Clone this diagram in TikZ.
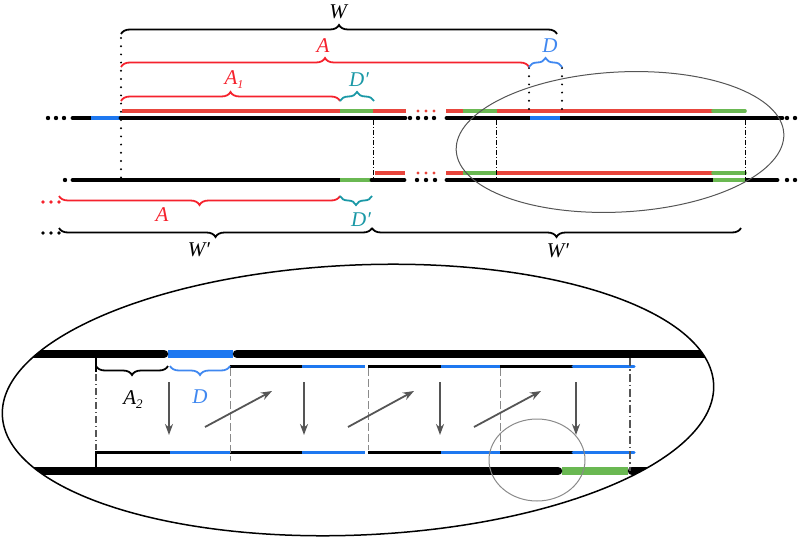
\documentclass[tikz,border=0pt]{standalone}
\usepackage{fontspec}
\setmainfont{Liberation Serif}
\usetikzlibrary{decorations.pathreplacing,arrows.meta}
\definecolor{lred}{HTML}{E8453C}
\definecolor{bred}{HTML}{F5222D}
\definecolor{lblue}{HTML}{1E78F0}
\definecolor{bblue}{HTML}{4088F0}
\definecolor{lgreen}{HTML}{6AB852}
\definecolor{tealb}{HTML}{1A98A6}
\definecolor{agray}{HTML}{555555}
\definecolor{lgray}{HTML}{8A8A8A}
\begin{document}
\begin{tikzpicture}[x=1pt,y=-1pt,
  bup/.style={decorate,decoration={brace,amplitude=9pt},line width=1.8pt},
  bdown/.style={decorate,decoration={brace,amplitude=9pt,mirror},line width=1.8pt},
  lab/.style={font=\fontsize{21}{21}\selectfont\itshape,inner sep=0pt},
  thk/.style={line width=4.8pt,line cap=round},
  thkb/.style={line width=4.8pt},
  rl/.style={line width=3.6pt,lred},
  gl/.style={line width=3.6pt,lgreen},
  bk/.style={line width=8.5pt,line cap=round},
  bkb/.style={line width=8.5pt},
  tn/.style={line width=3pt},
  dotv/.style={line width=2.2pt,line cap=round,dash pattern=on 0pt off 8.2pt},
  dashdotv/.style={line width=0.9pt,dash pattern=on 5pt off 2pt on 1pt off 2pt},
  arr/.style={agray,line width=1.8pt,-{Stealth[length=11pt,width=8pt]}}
]
\useasboundingbox (0,0) rectangle (799,540);

% ---------- top section: line 1 ----------
\foreach \x in {48,56,64,410,418,426,434,787,795} \fill (\x,118) circle (2.2);
\draw[thk] (73,118) -- (91,118);
\draw[thkb,lblue] (91,118) -- (121,118);
\draw[thk] (121,118) -- (405,118);
\draw[thk] (447,118) -- (782,118);
\draw[thkb,lblue] (530,118) -- (560,118);
% red line 1
\draw[rl] (122,111) -- (406,111);
\draw[gl] (340,111) -- (373,111);
\foreach \x in {418,426,434} \fill[lred] (\x,111) circle (1.7);
\draw[rl] (446,111) -- (745,111);
\draw[gl] (463,111) -- (497,111);
\draw[gl,line cap=round] (713,111) -- (745,111);

% ---------- line 2 ----------
\foreach \x in {65,417,426,435,787,795} \fill (\x,180) circle (2.2);
\draw[thk] (73,180) -- (340,180);
\draw[thkb,lgreen] (340,180) -- (372,180);
\draw[thk] (372,180) -- (404,180);
\draw[thk] (447,180) -- (777,180);
\draw[thkb,lgreen] (713,180) -- (745,180);
% red line 2
\draw[rl] (375,173) -- (405,173);
\foreach \x in {418,426,434} \fill[lred] (\x,173) circle (1.7);
\draw[rl] (446,173) -- (745,173);
\draw[gl] (463,173) -- (497,173);
\draw[gl,line cap=round] (713,173) -- (745,173);

% vertical guides
\draw[dotv] (121,38) -- (121,180);
\draw[dotv] (529,68) -- (529,111);
\draw[dotv] (562,68) -- (562,111);
\draw[dashdotv] (373,120) -- (373,178);
\draw[dashdotv] (496,120) -- (496,178);
\draw[dashdotv] (745,120) -- (745,178);

% braces top
\draw[bup] (121,34) -- (557,34);
\node[lab] (lW) at (338,12) {W};
\draw[bup,bred] (121,67) -- (529,67);
\node[lab,bred] (lA) at (323,46) {A};
\draw[bup,bblue] (529,67) -- (562,67);
\node[lab,bblue] (lD) at (550,46) {D};
\draw[bup,bred] (121,101) -- (340,101);
\node[lab,bred] (lA1) at (234,80) {A\raisebox{-4pt}{\fontsize{12}{12}\selectfont 1}};
\draw[bup,tealb] (340,101) -- (374,101);
\node[lab,tealb] (lDp1) at (359,80) {D′};

% braces lower
\foreach \x in {43,51,59} \fill[bred] (\x,202) circle (1.9);
\draw[bdown,bred] (59,196) -- (340,196);
\node[lab,bred] (lA2) at (162,215) {A};
\draw[bdown,tealb] (340,196) -- (372,196);
\node[lab,tealb] (lDp2) at (361,220) {D′};
\foreach \x in {43,51,59} \fill (\x,233) circle (1.9);
\draw[bdown] (59,228) -- (372,228);
\node[lab] (lWp1) at (199,250) {W′};
\draw[bdown] (372,228) -- (741,228);
\node[lab] (lWp2) at (558,251) {W′};

% top ellipse
\draw[line width=1pt,agray,rotate around={3:(620,142)}] (620,142) ellipse [x radius=164, y radius=70];

% ---------- bottom enlarged view ----------
\begin{scope}
\clip[rotate around={2.5:(358,400)}] (358,400) ellipse [x radius=356, y radius=135];
\draw[bkb,lblue] (168,354) -- (233,354);
\draw[bk] (10,354) -- (164,354);
\draw[bk] (237,354) -- (740,354);
\draw[bkb,lgreen] (562,471) -- (628,471);
\draw[bk] (10,471) -- (558,471);
\draw[bk] (632,471) -- (740,471);
\end{scope}
\draw[line width=1.5pt,rotate around={2.5:(358,400)}] (358,400) ellipse [x radius=356, y radius=135];

% thin lines
\draw[tn] (230,366) -- (302,366);
\draw[tn,lblue] (302,366) -- (365,366);
\draw[tn] (368,366) -- (441,366);
\draw[tn,lblue] (441,366) -- (500,366);
\draw[tn] (500,366) -- (573,366);
\draw[tn,lblue,line cap=round] (573,366) -- (634,366);

\draw[line width=1.3pt] (96,471) -- (96,452);
\draw[tn] (95,452) -- (170,452);
\draw[tn,lblue] (170,452) -- (230,452);
\draw[tn] (230,452) -- (302,452);
\draw[tn,lblue] (302,452) -- (365,452);
\draw[tn] (368,452) -- (441,452);
\draw[tn,lblue] (441,452) -- (500,452);
\draw[tn] (500,452) -- (573,452);
\draw[tn,lblue,line cap=round] (573,452) -- (634,452);

% verticals bottom
\draw[line width=1.2pt] (96,358) -- (96,372);
\draw[line width=1.1pt,agray,dash pattern=on 7pt off 3pt on 1pt off 3pt] (96,374) -- (96,450);
\draw[line width=1pt,lgray,dash pattern=on 8pt off 3pt] (230,368) -- (230,461);
\draw[line width=1pt,lgray,dash pattern=on 8pt off 3pt] (368,368) -- (368,450);
\draw[line width=1pt,lgray,dash pattern=on 8pt off 3pt] (500,368) -- (500,450);
\draw[line width=1.4pt,agray,dash pattern=on 8pt off 3pt on 1.5pt off 3pt] (630,358) -- (630,471);

% braces bottom
\draw[bdown] (96,366) -- (168,366);
\node[lab] (lA2b) at (133,400) {A\raisebox{-4pt}{\fontsize{13}{13}\selectfont 2}};
\draw[bdown,bblue] (170,366) -- (230,366);
\node[lab,bblue] (lDb) at (200,397) {D};

% arrows
\foreach \x in {169,304,440,576} \draw[arr] (\x,382) -- (\x,435);
\draw[arr] (205,427) -- (272,391);
\draw[arr] (348,427) -- (414,391);
\draw[arr] (474,427) -- (541,391);

% small circle
\draw[line width=1pt,lgray] (537,460) ellipse [x radius=48, y radius=41];
\end{tikzpicture}
\end{document}
